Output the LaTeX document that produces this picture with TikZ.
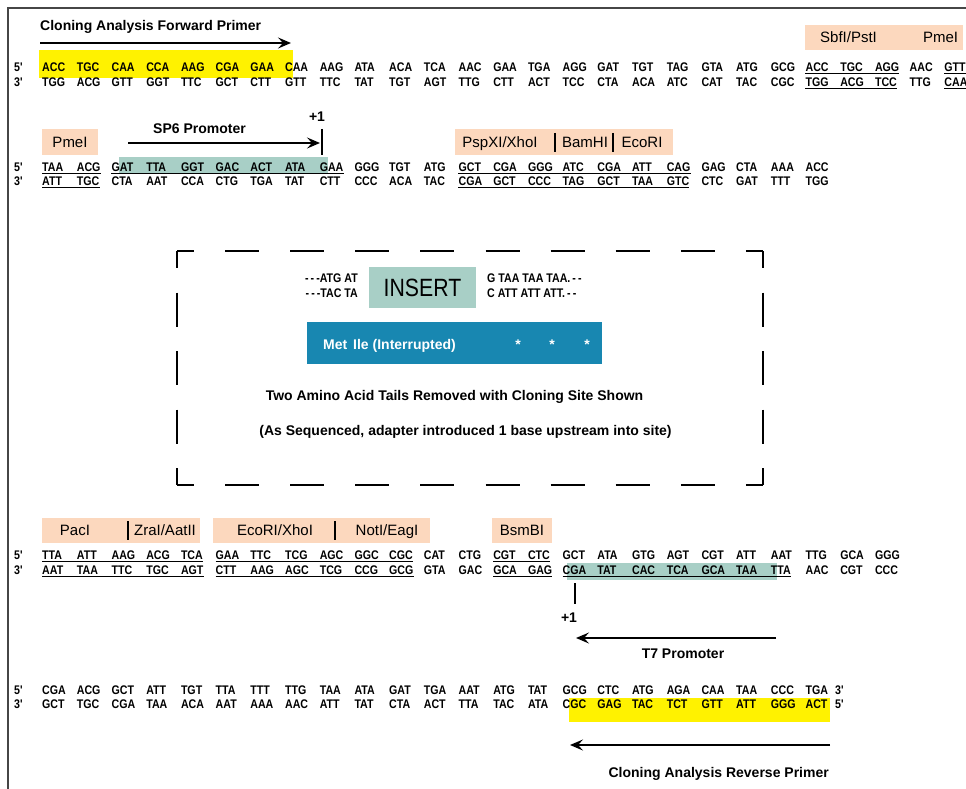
\documentclass[tikz,border=0pt]{standalone}
\usepackage{fontspec}
\setmainfont{Liberation Sans}
\newfontfamily\seqfont{Liberation Sans}[FakeStretch=0.85]
\usepackage{tikz}
\usetikzlibrary{arrows.meta}

\definecolor{primeryellow}{RGB}{255,242,0}
\definecolor{promteal}{RGB}{168,207,198}
\definecolor{sitepeach}{RGB}{252,216,190}
\definecolor{orfblue}{RGB}{24,135,177}
\definecolor{framegray}{RGB}{70,70,70}

% one strand of codons, 34.7pt apart
\newcommand{\strand}[3]{%
  \foreach \cd [count=\k from 0] in {#3}
    \node[nt] (#1\k) at (42+34.7*\k, #2) {\cd};}
% underline from codon #1 to codon #2
\newcommand{\uln}[2]{\draw[uline] ([yshift=-2pt]#1.base west) -- ([yshift=-2pt]#2.base east);}

\begin{document}
\begin{tikzpicture}[x=1pt, y=-1pt,
    nt/.style={anchor=base west, inner sep=0pt, font=\seqfont\bfseries\fontsize{12.5}{14}\selectfont},
    enz/.style={fill=sitepeach, inner sep=0pt, minimum height=25pt},
    enztxt/.style={anchor=base, inner sep=0pt, font=\fontsize{15}{18}\selectfont},
    lbl/.style={anchor=base west, inner sep=0pt, font=\bfseries\fontsize{14}{16}\selectfont},
    uline/.style={line width=1pt},
    parr/.style={line width=1.5pt, -{Stealth[length=13pt,width=11pt,inset=5pt]}},
    sitebar/.style={line width=1.2pt},
    dashside/.style={line width=1.5pt, dash phase=17pt},
  ]
  \useasboundingbox (0,0) rectangle (966,789);
  \draw[framegray, line width=2pt] (8,789) -- (8,8) -- (966,8);

  % highlighted primer / promoter stretches
  \fill[primeryellow] (39,50) rectangle (293,78);
  \fill[promteal] (119,157) rectangle (328,173);
  \fill[promteal] (567,563) rectangle (777,580);
  \fill[primeryellow] (569,698) rectangle (830,722);

  % ---- row 1
  \node[lbl] (fwdlbl) at (40,31) {Cloning Analysis Forward Primer};
  \coordinate (fwdS) at (40,43);
  \coordinate (fwdE) at (291,43);
  \draw[parr] (fwdS) -- (fwdE);
  \node[enz, minimum width=158pt] (sbfbox) at (884,37.5) {};
  \node[enztxt] (sbf) at (848.5,43) {SbfI/PstI};
  \node[enztxt] (pme1) at (940.5,43) {PmeI};
  \node[nt] (r1five) at (14,72) {5'};
  \node[nt] (r1three) at (14,87) {3'};
  \strand{r1a}{72}{ACC,TGC,CAA,CCA,AAG,CGA,GAA,CAA,AAG,ATA,ACA,TCA,AAC,GAA,TGA,AGG,GAT,TGT,TAG,GTA,ATG,GCG,ACC,TGC,AGG,AAC,GTT}
  \strand{r1b}{87}{TGG,ACG,GTT,GGT,TTC,GCT,CTT,GTT,TTC,TAT,TGT,AGT,TTG,CTT,ACT,TCC,CTA,ACA,ATC,CAT,TAC,CGC,TGG,ACG,TCC,TTG,CAA}
  \uln{r1a22}{r1a24} \uln{r1b22}{r1b24}
  \uln{r1a26}{r1a26} \uln{r1b26}{r1b26}

  % ---- row 2
  \node[lbl] (sp6lbl) at (153,133) {SP6 Promoter};
  \coordinate (sp6S) at (128,143);
  \coordinate (sp6E) at (320,143);
  \draw[parr] (sp6S) -- (sp6E);
  \coordinate (sp6top) at (322,129);
  \coordinate (sp6bot) at (322,155);
  \draw[line width=1.3pt] (sp6top) -- (sp6bot);
  \node[lbl, anchor=base] (plus1a) at (317,122) {+1};
  \node[enz, minimum width=56pt] (pme2box) at (70,142) {};
  \node[enztxt] (pme2) at (70,147.5) {PmeI};
  \node[enz, minimum width=218pt] (mcs1box) at (564,142) {};
  \node[enztxt] (xho1) at (500,147.5) {PspXI/XhoI};
  \node[enztxt] (bam) at (585,147.5) {BamHI};
  \node[enztxt] (eco1) at (642,147.5) {EcoRI};
  \draw[sitebar] (555,133) -- (555,152);
  \draw[sitebar] (613,133) -- (613,152);
  \node[nt] (r2five) at (14,171) {5'};
  \node[nt] (r2three) at (14,185) {3'};
  \strand{r2a}{171}{TAA,ACG,GAT,TTA,GGT,GAC,ACT,ATA,GAA,GGG,TGT,ATG,GCT,CGA,GGG,ATC,CGA,ATT,CAG,GAG,CTA,AAA,ACC}
  \strand{r2b}{185}{ATT,TGC,CTA,AAT,CCA,CTG,TGA,TAT,CTT,CCC,ACA,TAC,CGA,GCT,CCC,TAG,GCT,TAA,GTC,CTC,GAT,TTT,TGG}
  \uln{r2a0}{r2a1} \uln{r2b0}{r2b1}
  \uln{r2a2}{r2a8}
  \uln{r2a12}{r2a18} \uln{r2b12}{r2b18}

  % ---- insert box
  \draw[dashside, dash pattern=on 34pt off 31.1pt] (177,251) -- (763,251);
  \draw[dashside, dash pattern=on 34pt off 31.1pt] (177,485) -- (763,485);
  \draw[dashside, dash pattern=on 34pt off 24.5pt] (177,251) -- (177,485);
  \draw[dashside, dash pattern=on 34pt off 24.5pt] (763,251) -- (763,485);
  \node[fill=promteal, minimum width=107pt, minimum height=41pt, inner sep=0pt,
        font=\seqfont\fontsize{25}{28}\selectfont] (insert) at (422.5,287.5) {INSERT};
  \node[nt, anchor=base east] (lflankA) at (358,282) {-\,-\,-ATG AT};
  \node[nt, anchor=base east] (lflankB) at (358,297) {-\,-\,-TAC TA};
  \node[nt] (rflankA) at (487,282) {G TAA TAA TAA.\,-\,-};
  \node[nt] (rflankB) at (487,297) {C ATT ATT ATT.\,-\,-};
  \node[fill=orfblue, minimum width=295pt, minimum height=42pt, inner sep=0pt] (orf) at (454.5,343) {};
  \node[lbl, text=white] (met) at (323,349) {Met};
  \node[lbl, text=white] (ile) at (353,349) {Ile (Interrupted)};
  \node[lbl, text=white, anchor=base] (stop1) at (518,349) {*};
  \node[lbl, text=white, anchor=base] (stop2) at (552,349) {*};
  \node[lbl, text=white, anchor=base] (stop3) at (587,349) {*};
  \node[lbl, anchor=base] (note1) at (454.5,400) {Two Amino Acid Tails Removed with Cloning Site Shown};
  \node[lbl, anchor=base] (note2) at (465.5,435) {(As Sequenced, adapter introduced 1 base upstream into site)};

  % ---- row 3
  \node[enz, minimum width=158pt] (mcs2box) at (121,530) {};
  \node[enztxt] (pac) at (75,535.5) {PacI};
  \node[enztxt] (aat) at (165,535.5) {ZraI/AatII};
  \draw[sitebar] (128,521) -- (128,540);
  \node[enz, minimum width=217pt] (mcs3box) at (321.5,530) {};
  \node[enztxt] (eco2) at (275,535.5) {EcoRI/XhoI};
  \node[enztxt] (not) at (387,535.5) {NotI/EagI};
  \draw[sitebar] (335,521) -- (335,540);
  \node[enz, minimum width=60pt] (bsmbox) at (522,530) {};
  \node[enztxt] (bsm) at (522,535.5) {BsmBI};
  \node[nt] (r3five) at (14,559) {5'};
  \node[nt] (r3three) at (14,574) {3'};
  \strand{r3a}{559}{TTA,ATT,AAG,ACG,TCA,GAA,TTC,TCG,AGC,GGC,CGC,CAT,CTG,CGT,CTC,GCT,ATA,GTG,AGT,CGT,ATT,AAT,TTG,GCA,GGG}
  \strand{r3b}{574}{AAT,TAA,TTC,TGC,AGT,CTT,AAG,AGC,TCG,CCG,GCG,GTA,GAC,GCA,GAG,CGA,TAT,CAC,TCA,GCA,TAA,TTA,AAC,CGT,CCC}
  \uln{r3a0}{r3a4} \uln{r3b0}{r3b4}
  \uln{r3a5}{r3a10} \uln{r3b5}{r3b10}
  \uln{r3a13}{r3a14} \uln{r3b13}{r3b14}
  \uln{r3b15}{r3b21}
  \coordinate (t7top) at (575,583);
  \coordinate (t7bot) at (575,604);
  \draw[line width=1.3pt] (t7top) -- (t7bot);
  \node[lbl, anchor=base] (plus1b) at (569,622) {+1};
  \coordinate (t7S) at (776,638);
  \coordinate (t7E) at (576,638);
  \draw[parr] (t7S) -- (t7E);
  \node[lbl, anchor=base] (t7lbl) at (683,658) {T7 Promoter};

  % ---- row 4
  \node[nt] (r4five) at (14,694) {5'};
  \node[nt] (r4three) at (14,708) {3'};
  \strand{r4a}{694}{CGA,ACG,GCT,ATT,TGT,TTA,TTT,TTG,TAA,ATA,GAT,TGA,AAT,ATG,TAT,GCG,CTC,ATG,AGA,CAA,TAA,CCC,TGA}
  \strand{r4b}{708}{GCT,TGC,CGA,TAA,ACA,AAT,AAA,AAC,ATT,TAT,CTA,ACT,TTA,TAC,ATA,CGC,GAG,TAC,TCT,GTT,ATT,GGG,ACT}
  \node[nt] (r4endA) at (835,694) {3'};
  \node[nt] (r4endB) at (835,708) {5'};
  \coordinate (revS) at (830,745);
  \coordinate (revE) at (570,745);
  \draw[parr] (revS) -- (revE);
  \node[lbl, anchor=base east] (revlbl) at (829,777) {Cloning Analysis Reverse Primer};
\end{tikzpicture}
\end{document}
